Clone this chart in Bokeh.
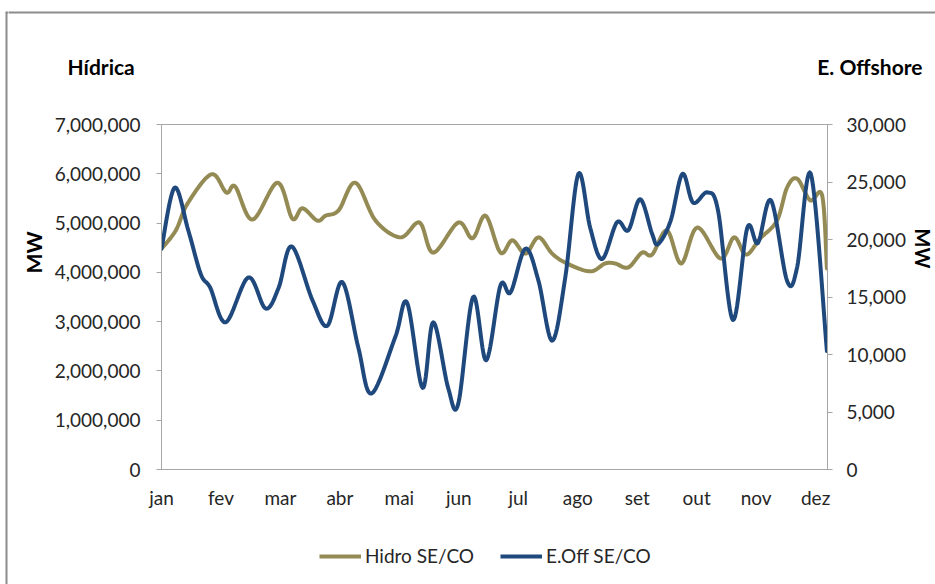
import numpy as np
from bokeh.plotting import figure
from bokeh.layouts import column, row
from bokeh.models import (Range1d, LinearAxis, FixedTicker, NumeralTickFormatter,
                          Legend, LegendItem)
from bokeh.core.properties import value
from bokeh.embed import file_html
from bokeh.resources import INLINE

# Month labels on the horizontal axis
meses = ["jan", "fev", "mar", "abr", "mai", "jun", "jul", "ago", "set", "out", "nov", "dez"]

# Hidro SE/CO (left axis, MW) - position in months from jan
hidro_x = [0.00, 0.24, 0.44, 0.84, 1.09, 1.24, 1.53, 1.95, 2.20, 2.37, 2.62, 2.76,
           2.98, 3.26, 3.60, 4.02, 4.34, 4.57, 4.99, 5.23, 5.45, 5.70, 5.90, 6.12,
           6.34, 6.57, 6.82, 7.21, 7.46, 7.63, 7.85, 8.08, 8.25, 8.50, 8.74, 9.01,
           9.40, 9.63, 9.83, 10.07, 10.35, 10.52, 10.69, 10.91, 11.11, 11.19]
hidro_mw = [4480000, 4850000, 5400000, 5990000, 5620000, 5740000, 5070000, 5820000,
            5090000, 5300000, 5050000, 5150000, 5260000, 5820000, 5050000, 4710000,
            5010000, 4400000, 5010000, 4690000, 5150000, 4400000, 4650000, 4380000,
            4710000, 4380000, 4180000, 4020000, 4180000, 4180000, 4100000, 4400000,
            4360000, 4850000, 4180000, 4910000, 4280000, 4710000, 4360000, 4690000,
            5050000, 5720000, 5900000, 5460000, 5560000, 4080000]

# E.Off SE/CO (right axis, MW)
eoff_x = [0.00, 0.22, 0.45, 0.66, 0.82, 1.08, 1.46, 1.75, 1.97, 2.19, 2.54, 2.79,
          3.04, 3.31, 3.53, 3.93, 4.13, 4.39, 4.57, 4.82, 4.99, 5.24, 5.46, 5.70,
          5.87, 6.12, 6.34, 6.57, 6.79, 7.01, 7.21, 7.41, 7.66, 7.85, 8.05, 8.25,
          8.35, 8.56, 8.76, 8.94, 9.18, 9.36, 9.61, 9.85, 10.03, 10.25, 10.52,
          10.69, 10.92, 11.19]
eoff_mw = [19200, 24500, 20800, 17000, 15800, 12800, 16700, 14000, 15800, 19400,
           14700, 12500, 16300, 10600, 6600, 11500, 14500, 7100, 12800, 7100,
           5700, 15000, 9500, 16000, 15400, 19200, 16400, 11200, 16700, 25700,
           21000, 18300, 21500, 20800, 23500, 20500, 19600, 21600, 25700, 23200,
           24100, 22500, 13000, 21000, 19700, 23400, 16400, 17600, 25700, 10300]


def smooth(xs, ys, steps=14):
    """Catmull-Rom curve through the points (the chart uses smoothed lines)."""
    pts = np.column_stack([xs, ys]).astype(float)
    pts = np.vstack([pts[0], pts, pts[-1]])
    out = []
    for i in range(1, len(pts) - 2):
        p0, p1, p2, p3 = pts[i - 1], pts[i], pts[i + 1], pts[i + 2]
        for t in np.linspace(0, 1, steps, endpoint=False):
            t2, t3 = t * t, t * t * t
            out.append(0.5 * (2 * p1 + (p2 - p0) * t
                              + (2 * p0 - 5 * p1 + 4 * p2 - p3) * t2
                              + (3 * p1 - p0 - 3 * p2 + p3) * t3))
    out.append(pts[-2])
    arr = np.array(out)
    return arr[:, 0], arr[:, 1]


FONT = "Lato"
TEXT = "#262626"
GRID = "#a6a6a6"
FRAME = "#8c8c8c"
GOLD = "#948a54"
BLUE = "#1f497d"

# Page geometry (pixels)
W, H = 935, 584
EDGE_W = 8                      # strip carrying the left edge of the chart area
HEAD_H, FOOT_H = 100, 69
MID_H = H - HEAD_H - FOOT_H
LEFT_X, RIGHT_X = 50, 909       # main chart spans LEFT_X..RIGHT_X
FRAME_L, FRAME_R, FRAME_T, FRAME_B = 161, 827, 124, 469


def panel(x0, y0, width, height):
    """Plain canvas addressed in page pixels (y grows downward)."""
    f = figure(frame_width=width, frame_height=height, output_backend="svg",
               toolbar_location=None,
               x_range=Range1d(x0, x0 + width), y_range=Range1d(y0 + height, y0),
               x_axis_type=None, y_axis_type=None, min_border=0, frame_align=False)
    f.outline_line_color = None
    f.xgrid.visible = False
    f.ygrid.visible = False
    f.border_fill_color = "white"
    f.background_fill_color = "white"
    return f


def bold_text(f, x, y, txt, align="left", angle=0.0, size="21px"):
    f.text(x=[x], y=[y], text=[txt], text_font=value(FONT), text_font_style="bold",
           text_font_size=size, text_color="black", text_align=align,
           text_baseline="middle", angle=angle)


# Left edge of the chart area, full height
edge = panel(0, 0, EDGE_W, H)
edge.segment(x0=[6, 5], y0=[12, 12], x1=[6, EDGE_W + 4], y1=[H + 4, 12],
             line_color=FRAME, line_width=2)

# Header: axis titles and the top edge of the chart area
head = panel(EDGE_W, 0, W - EDGE_W, HEAD_H)
head.segment(x0=[EDGE_W - 4], y0=[12], x1=[W + 4], y1=[12], line_color=FRAME, line_width=2)
bold_text(head, 67, 66, "Hídrica")
bold_text(head, 922, 66, "E. Offshore", align="right")

# Unit labels beside the two value axes
left = panel(EDGE_W, HEAD_H, LEFT_X - EDGE_W, MID_H)
bold_text(left, 33, 252, "MW", align="center", angle=np.pi / 2)
right = panel(RIGHT_X, HEAD_H, W - RIGHT_X, MID_H)
bold_text(right, 922, 248, "MW", align="center", angle=-np.pi / 2, size="20px")

# Main chart
p = figure(width=RIGHT_X - LEFT_X, height=MID_H, output_backend="svg",
           toolbar_location=None, x_range=Range1d(0, 11.2), y_range=Range1d(0, 7000000),
           min_border_left=FRAME_L - LEFT_X, min_border_right=RIGHT_X - FRAME_R,
           min_border_top=FRAME_T - HEAD_H, min_border_bottom=HEAD_H + MID_H - FRAME_B,
           x_axis_type=None, y_axis_type=None, frame_align=False)
p.extra_y_ranges = {"off": Range1d(0, 30000)}
p.outline_line_color = GRID
p.background_fill_color = "white"
p.border_fill_color = "white"

ya = LinearAxis(ticker=FixedTicker(ticks=list(range(0, 7000001, 1000000))),
                formatter=NumeralTickFormatter(format="0,0"))
yb = LinearAxis(y_range_name="off", ticker=FixedTicker(ticks=list(range(0, 30001, 5000))),
                formatter=NumeralTickFormatter(format="0,0"))
for ax, standoff in ((ya, 16), (yb, 14)):
    ax.axis_line_color = GRID
    ax.major_tick_line_color = GRID
    ax.major_tick_out = 5
    ax.major_tick_in = 0
    ax.minor_tick_line_color = None
    ax.major_label_standoff = standoff
    ax.major_label_text_font = FONT
    ax.major_label_text_font_size = "19px"
    ax.major_label_text_color = TEXT
p.add_layout(ya, "left")
p.add_layout(yb, "right")

xa = LinearAxis(ticker=FixedTicker(ticks=list(range(12))),
                major_label_overrides={i: m for i, m in enumerate(meses)})
xa.axis_line_color = GRID
xa.major_tick_line_color = None
xa.minor_tick_line_color = None
xa.major_label_standoff = 10
xa.major_label_text_font = FONT
xa.major_label_text_font_size = "19px"
xa.major_label_text_color = TEXT
p.add_layout(xa, "below")

p.ygrid.ticker = FixedTicker(ticks=list(range(0, 7000001, 1000000)))
p.ygrid.grid_line_color = GRID
p.xgrid.grid_line_color = None

hx, hy = smooth(hidro_x, hidro_mw)
ex, ey = smooth(eoff_x, eoff_mw)
p.line(hx, hy, line_color=GOLD, line_width=4, line_join="round", line_cap="round")
p.line(ex, ey, line_color=BLUE, line_width=4, line_join="round", line_cap="round",
       y_range_name="off")

# Footer: legend (key renderers carry no visible points)
foot = panel(EDGE_W, HEAD_H + MID_H, W - EDGE_W, FOOT_H)
k_h = foot.line(x=[np.nan, np.nan], y=[np.nan, np.nan], line_color=GOLD, line_width=4)
k_e = foot.line(x=[np.nan, np.nan], y=[np.nan, np.nan], line_color=BLUE, line_width=4)
legend = Legend(items=[LegendItem(label="Hidro SE/CO", renderers=[k_h]),
                       LegendItem(label="E.Off SE/CO", renderers=[k_e])],
                orientation="horizontal", location=(319 - EDGE_W, 17),
                label_text_font=FONT, label_text_font_size="19px", label_text_color=TEXT,
                glyph_width=42, glyph_height=20, label_standoff=4, spacing=26,
                padding=0, margin=0, border_line_color=None, background_fill_alpha=0)
foot.add_layout(legend, "center")

layout = row(edge, column(head, row(left, p, right), foot))
open("out.html", "w").write(file_html(layout, INLINE))
